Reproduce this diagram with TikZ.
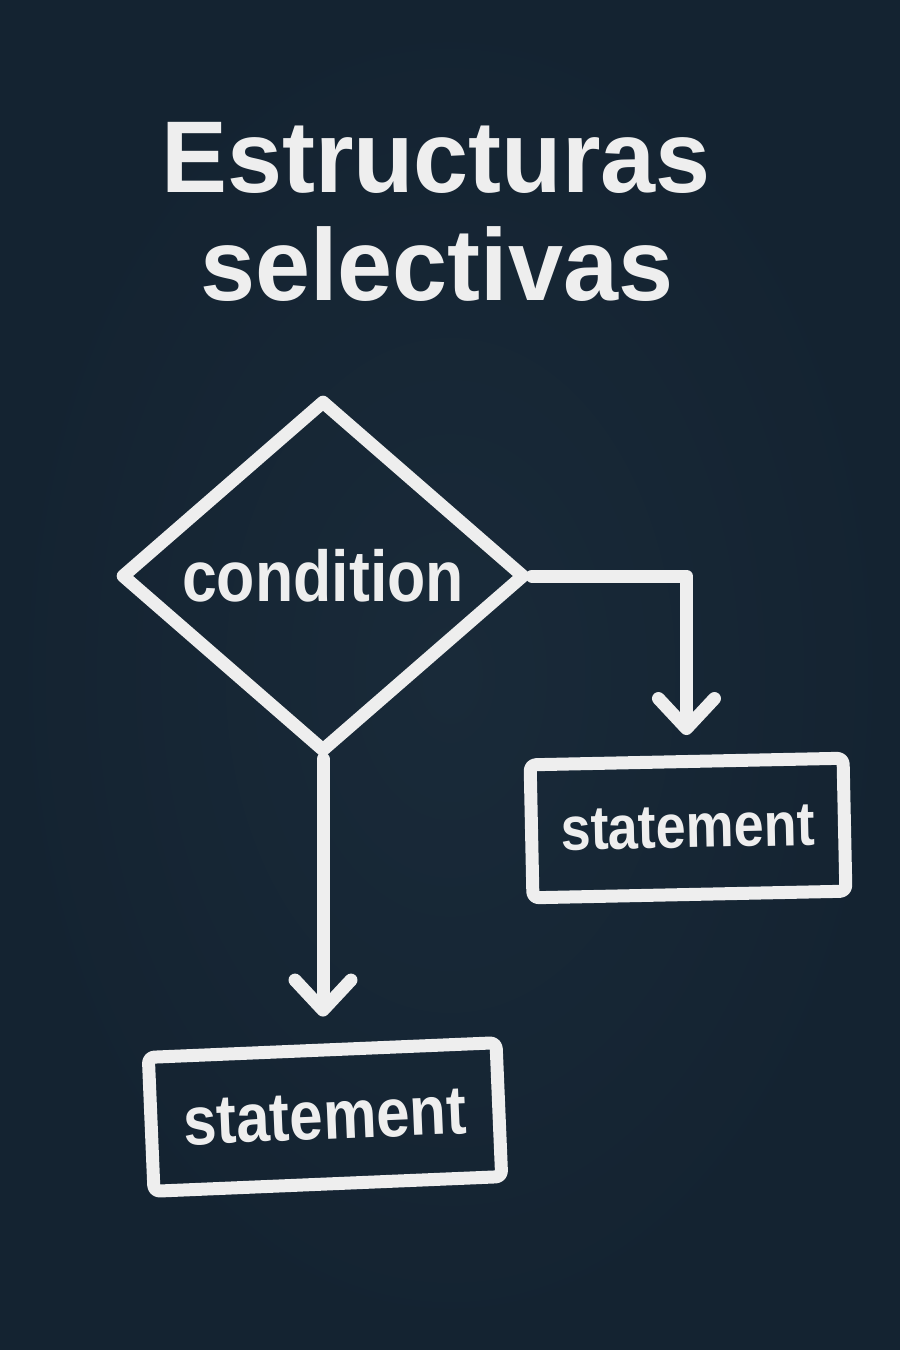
\documentclass[tikz,border=0pt]{standalone}
\usepackage{fontspec}
\usetikzlibrary{shapes.geometric,arrows.meta}
\setmainfont{Liberation Sans}
\newfontfamily\titlefont{Liberation Sans}[FakeStretch=0.97]
\newfontfamily\labelfont{Liberation Sans}[FakeStretch=0.87]
\definecolor{bgin}{RGB}{25,42,57}
\definecolor{bgout}{RGB}{20,35,49}
\definecolor{ink}{RGB}{238,238,238}
\tikzset{
  stroke/.style={draw=ink, line width=13pt, line join=round},
  stmt/.style={stroke, rectangle, rounded corners=6pt, inner sep=0pt, text=ink,
    font=\labelfont\bfseries},
  cond/.style={stroke, diamond, inner sep=0pt, text=ink, font=\labelfont\bfseries\fontsize{72}{72}\selectfont},
  conn/.style={draw=ink, line width=13pt, line cap=round, line join=round,
    -{Straight Barb[length=30pt, width=56pt, round]}},
  ttl/.style={text=ink, font=\titlefont\bfseries\fontsize{102}{108}\selectfont, anchor=base, inner sep=0pt}
}
\begin{document}
\begin{tikzpicture}[x=1pt,y=-1pt]
\useasboundingbox (0,0) rectangle (900,1350);
\shade[inner color=bgin, outer color=bgout] (0,0) rectangle (900,1350);
\node[ttl] (t1) at (436,192) {Estructuras};
\node[ttl] (t2) at (437,300) {selectivas};
\node[cond, minimum width=405pt, minimum height=353pt] (d) at (323,576) {condition};
\node[stmt, minimum width=313pt, minimum height=133pt, rotate=1.2, font=\labelfont\bfseries\fontsize{62}{62}\selectfont] (r) at (688,828) {statement};
\node[stmt, minimum width=348pt, minimum height=134pt, rotate=2.4, font=\labelfont\bfseries\fontsize{69}{69}\selectfont] (b) at (325,1117) {statement};
\draw[conn, shorten >=20pt] (d.east) -| (r.north);
\draw[conn, shorten >=27pt] (d.south) -- (d.south |- b.north);
\end{tikzpicture}
\end{document}
